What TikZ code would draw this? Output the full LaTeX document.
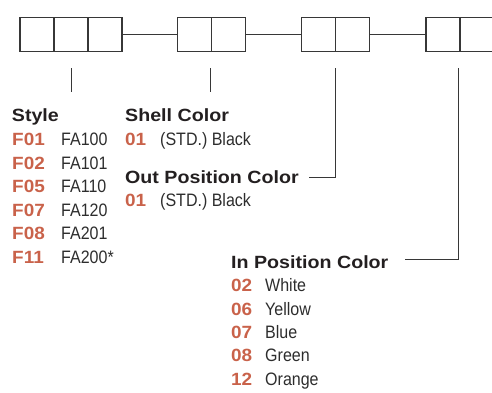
\documentclass[tikz,border=0pt]{standalone}
\usepackage{fontspec}
\setmainfont{Liberation Sans}
\newfontfamily\ttlfont[FakeStretch=1.11]{Liberation Sans}
\newfontfamily\numfont[FakeStretch=1.07]{Liberation Sans}
\newfontfamily\txtfont[FakeStretch=0.89]{Liberation Sans}
\definecolor{orng}{RGB}{201,98,74}
\definecolor{ttlcol}{RGB}{35,31,32}
\definecolor{valcol}{RGB}{45,45,45}
\definecolor{linecol}{RGB}{55,55,55}
\tikzset{
  ttl/.style={anchor=base west, inner sep=0pt, text=ttlcol, font=\ttlfont\bfseries\fontsize{17.7}{20}\selectfont},
  num/.style={anchor=base west, inner sep=0pt, text=orng, font=\numfont\bfseries\fontsize{17.7}{20}\selectfont},
  val/.style={anchor=base west, inner sep=0pt, text=valcol, font=\txtfont\fontsize{18}{20}\selectfont},
  cell/.style={draw=linecol, line width=1.1pt, minimum width=34pt, minimum height=34.4pt, inner sep=0pt, outer sep=0pt},
  conn/.style={draw=linecol, line width=1pt}
}
\begin{document}
\begin{tikzpicture}[x=1pt,y=-1pt]
\useasboundingbox (0,0) rectangle (492,392);
% boxes
\node[cell] (a1) at (37,34.5) {};
\node[cell] (a2) at (71,34.5) {};
\node[cell] (a3) at (105,34.5) {};
\node[cell] (b1) at (194.7,34.5) {};
\node[cell] (b2) at (228.7,34.5) {};
\node[cell] (c1) at (318.7,34.5) {};
\node[cell] (c2) at (352.7,34.5) {};
\node[cell] (d1) at (443,34.5) {};
\node[cell] (d2) at (477,34.5) {};
\draw[conn] (a3.east) -- (b1.west);
\draw[conn] (b2.east) -- (c1.west);
\draw[conn] (c2.east) -- (d1.west);
% ticks
\coordinate (t1a) at (71.5,68); \coordinate (t1b) at (71.5,91.7);
\coordinate (t2a) at (210.5,68); \coordinate (t2b) at (210.5,91.7);
\coordinate (t3a) at (335.5,68); \coordinate (t3b) at (309,177.7);
\coordinate (t4a) at (458.7,68); \coordinate (t4b) at (405,259);
\draw[conn] (t1a) -- (t1b);
\draw[conn] (t2a) -- (t2b);
\draw[conn] (t3a) |- (t3b);
\draw[conn] (t4a) |- (t4b);
% Style
\node[ttl] (sty) at (11.7,121) {Style};
\node[num] (s1) at (12,145.7) {F01}; \node[val] (v1) at (61,145.7) {FA100};
\node[num] (s2) at (12,169.2) {F02}; \node[val] (v2) at (61,169.2) {FA101};
\node[num] (s3) at (12,192.7) {F05}; \node[val] (v3) at (61,192.7) {FA110};
\node[num] (s4) at (12,216.2) {F07}; \node[val] (v4) at (61,216.2) {FA120};
\node[num] (s5) at (12,239.7) {F08}; \node[val] (v5) at (61,239.7) {FA201};
\node[num] (s6) at (12,263.2) {F11}; \node[val] (v6) at (61,263.2) {FA200*};
% Shell
\node[ttl] (shl) at (125,121) {Shell Color};
\node[num] (sh1) at (125,145.7) {01}; \node[val] (shv1) at (160,145.7) {(STD.) Black};
% Out
\node[ttl] (out) at (125,183) {Out Position Color};
\node[num] (o1) at (125,206.3) {01}; \node[val] (ov1) at (160,206.3) {(STD.) Black};
% In
\node[ttl] (inp) at (231,268) {In Position Color};
\node[num] (i1) at (231,291.7) {02}; \node[val] (iv1) at (265,291.7) {White};
\node[num] (i2) at (231,315) {06}; \node[val] (iv2) at (265,315) {Yellow};
\node[num] (i3) at (231,338.3) {07}; \node[val] (iv3) at (265,338.3) {Blue};
\node[num] (i4) at (231,361.7) {08}; \node[val] (iv4) at (265,361.7) {Green};
\node[num] (i5) at (231,385) {12}; \node[val] (iv5) at (265,385) {Orange};
\end{tikzpicture}
\end{document}
